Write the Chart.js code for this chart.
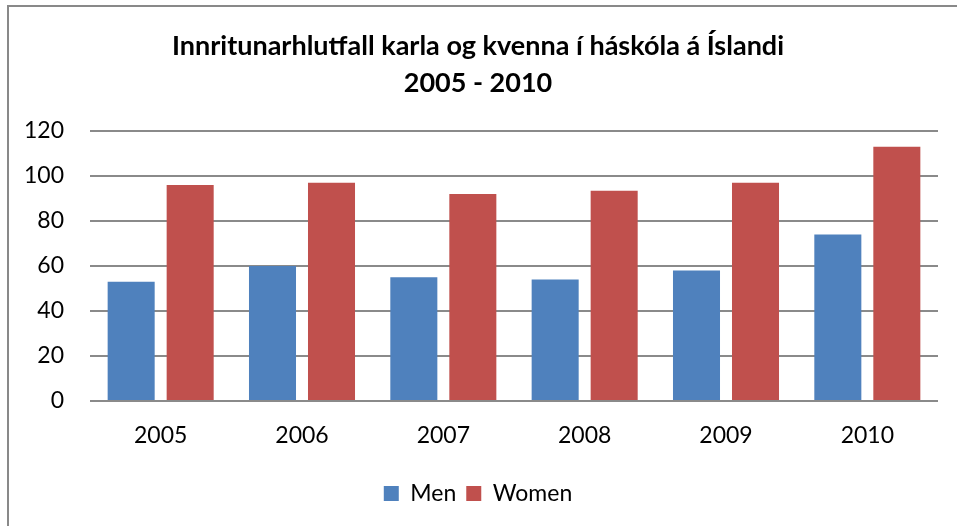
<!DOCTYPE html>
<html>
<head>
<meta charset="utf-8">
<script src="https://cdn.jsdelivr.net/npm/chart.js@4/dist/chart.umd.min.js"></script>
<style>
  html, body { margin: 0; padding: 0; background: #ffffff; overflow: hidden; }
  #wrap { position: relative; width: 957px; height: 526px; }
  #frame { position: absolute; left: 7px; top: 5px; width: 980px; height: 560px;
           border-top: 2px solid #898989; border-left: 2px solid #898989; pointer-events: none; }
  canvas { position: absolute; left: 0; top: 0; }
</style>
</head>
<body>
<div id="wrap">
  <canvas id="c" width="957" height="526"></canvas>
  <div id="frame"></div>
</div>
<script>
const titleLines = ["Innritunarhlutfall karla og kvenna í háskóla á Íslandi", "2005 - 2010"];
const categories = ["2005", "2006", "2007", "2008", "2009", "2010"];
const menValues = [53, 60, 55, 54, 58, 74];
const womenValues = [96, 97, 92, 93.5, 97, 113];
const seriesNames = ["Men", "Women"];
const yTicks = [0, 20, 40, 60, 80, 100, 120];

const FONT = "Lato, 'Open Sans', 'DejaVu Sans', sans-serif";

new Chart(document.getElementById('c'), {
  type: 'bar',
  data: {
    labels: categories,
    datasets: [
      { label: seriesNames[0], data: menValues, backgroundColor: '#4F81BD',
        barPercentage: 0.797, categoryPercentage: 0.835 },
      { label: seriesNames[1], data: womenValues, backgroundColor: '#C0504D',
        barPercentage: 0.797, categoryPercentage: 0.835 }
    ]
  },
  options: {
    responsive: false,
    animation: false,
    devicePixelRatio: 1,
    layout: { padding: { top: 0, left: 18, right: 19, bottom: 11 } },
    plugins: {
      title: {
        display: true,
        text: titleLines,
        color: '#000000',
        font: { family: FONT, size: 27, weight: 'bold', lineHeight: 37 / 27 },
        padding: { top: 28, bottom: 29 }
      },
      legend: {
        position: 'bottom',
        labels: {
          color: '#000000',
          font: { family: FONT, size: 23 },
          boxWidth: 15, boxHeight: 15,
          padding: 10
        }
      },
      tooltip: { enabled: false }
    },
    scales: {
      x: {
        grid: { display: false, drawTicks: false },
        border: { display: false },
        ticks: { color: '#000000', font: { family: FONT, size: 23 }, padding: 21, maxRotation: 0 },
        afterFit: (s) => { s.height = 71; }
      },
      y: {
        min: 0, max: 120,
        afterBuildTicks: (s) => { s.ticks = yTicks.map(v => ({ value: v })); },
        grid: { color: '#8a8a8a', lineWidth: 2, drawTicks: false },
        border: { display: false },
        ticks: { color: '#000000', font: { family: FONT, size: 23 }, padding: 26 },
        afterFit: (s) => { s.width = 72; }
      }
    }
  }
});
</script>
</body>
</html>
